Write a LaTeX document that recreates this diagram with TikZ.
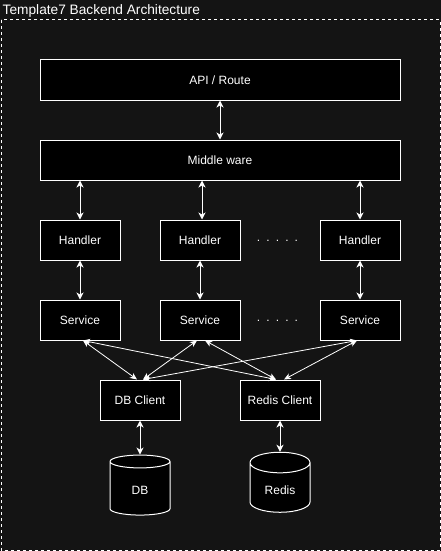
\documentclass[tikz,border=0pt]{standalone}
\usepackage{fontspec}
\setmainfont{Liberation Sans}
\usetikzlibrary{shapes,arrows.meta}
\definecolor{canvas}{RGB}{20,20,20}

\begin{document}
\begin{tikzpicture}[x=1pt,y=-1pt,
    font=\fontsize{12}{14}\selectfont, text=white,
    block_wide/.style ={rectangle, draw=white, line width=1pt, fill=black,
      minimum width=360pt, minimum height=40pt},
    block_small/.style ={rectangle, draw=white, line width=1pt, fill=black,
      minimum width=80pt, minimum height=40pt},
    block_store/.style ={cylinder, shape border rotate=90, aspect=0.55,
      draw=white, line width=1pt, fill=black, minimum width=60pt, minimum height=60pt},
    block_noborder/.style ={rectangle, draw=none, fill=none, inner sep=0pt},
    line/.style ={draw=white, line width=1pt,
      {Stealth[length=7pt,width=7pt,inset=2pt]}-{Stealth[length=7pt,width=7pt,inset=2pt]}},
    line_cross/.style ={draw=white, line width=0.8pt,
      {Stealth[length=7pt,width=6pt,inset=2pt]}-{Stealth[length=7pt,width=6pt,inset=2pt]}}]
    % canvas and outer frame
    \fill [canvas] (0,0) rectangle (441,551);
    \useasboundingbox (0,0) rectangle (441,551);
    \draw [white, line width=1pt, dash pattern=on 3pt off 3pt] (1,20) rectangle (440,550);
    \node [block_noborder, anchor=base west, font=\fontsize{13.7}{16}\selectfont] (title) at (2.5,15)
      {Template7 Backend Architecture};
    % top rows
    \node [block_wide] (api) at (220,80) {API / Route};
    \node [block_wide] (middleware) at (220,160) {Middle ware};
    % handler row
    \node [block_small] (handler1) at (80,240) {Handler};
    \node [block_small] (handler2) at (200,240) {Handler};
    \node [block_small] (handler3) at (360,240) {Handler};
    \node [block_noborder, anchor=base] (dotsH) at (277.5,241.5) {\spaceskip=5pt . . . . .};
    % service row
    \node [block_small] (service1) at (80,320) {Service};
    \node [block_small] (service2) at (200,320) {Service};
    \node [block_small] (service3) at (360,320) {Service};
    \node [block_noborder, anchor=base] (dotsS) at (277.5,321.5) {\spaceskip=5pt . . . . .};
    % clients and stores
    \node [block_small] (dbclient) at (140,400) {DB Client};
    \node [block_small] (redisclient) at (280,400) {Redis Client};
    \node [block_store] (db) at (140,490) {DB};
    \node [block_store] (redis) at (280,490) {Redis};
    % connecting nodes with paths
    \begin{scope}[every path/.style=line]
      \path (api) -- (middleware);
      \path (middleware.south -| handler1) -- (handler1.north);
      \path ([xshift=2pt]middleware.south -| handler2) -- ([xshift=2pt]handler2.north);
      \path (middleware.south -| handler3) -- (handler3.north);
      \path (handler1) -- (service1);
      \path (handler2) -- (service2);
      \path (handler3) -- (service3);
      \path (dbclient) -- (db.top);
      \path (redisclient) -- (redis.top);
    \end{scope}
    % services to clients
    \begin{scope}[every path/.style=line_cross]
      \path ([xshift=3pt]service1.south) -- ([xshift=-3pt]dbclient.north);
      \path ([xshift=3pt]service1.south) -- ([xshift=-4pt]redisclient.north);
      \path ([xshift=-3pt]service2.south) -- ([xshift=3pt]dbclient.north);
      \path ([xshift=5pt]service2.south) -- ([xshift=-4pt]redisclient.north);
      \path ([xshift=-3pt]service3.south) -- ([xshift=3pt]dbclient.north);
      \path ([xshift=-3pt]service3.south) -- ([xshift=4pt]redisclient.north);
    \end{scope}
  \end{tikzpicture}
\end{document}
